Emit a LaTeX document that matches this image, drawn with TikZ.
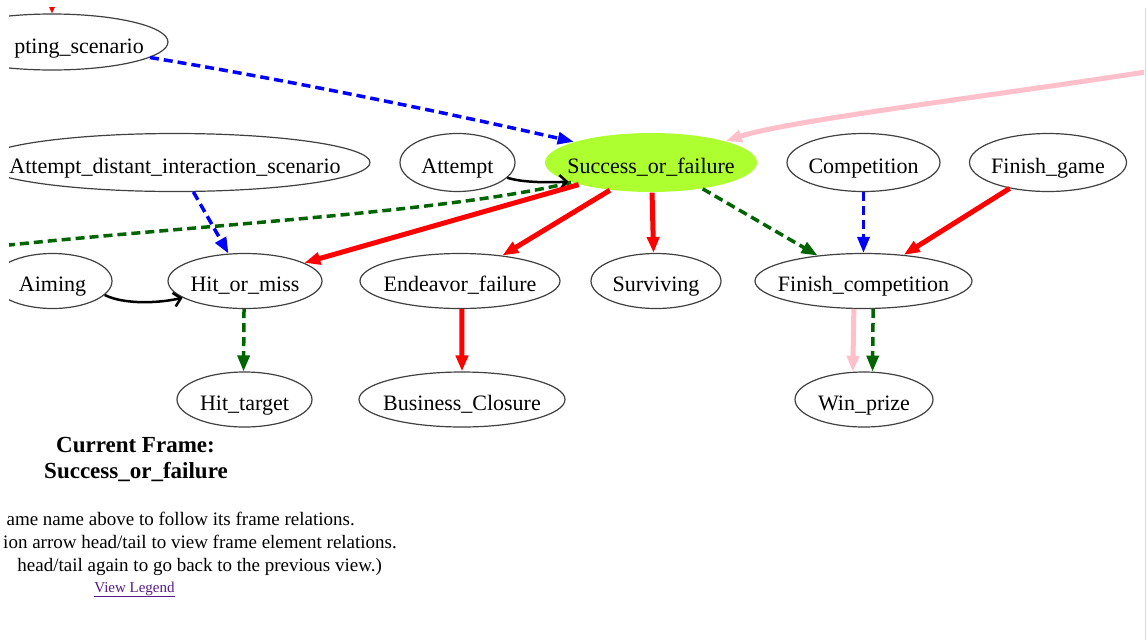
\documentclass[tikz,border=0pt]{standalone}
\usepackage{fontspec}
\setmainfont{Liberation Serif}
\usepackage{tikz}
\usetikzlibrary{shapes.geometric, arrows.meta, positioning}

\definecolor{curgreen}{RGB}{173,255,47}
\definecolor{reldkgreen}{RGB}{0,100,0}
\definecolor{relpink}{RGB}{255,192,203}
\definecolor{linkpurple}{RGB}{85,26,139}

\begin{document}
\begin{tikzpicture}[
    x=1pt, y=-1pt,
    fr/.style={ellipse, draw=black!75, line width=1.2pt, minimum height=55pt, inner xsep=-40pt, inner ysep=0pt, text height=21pt, text depth=0pt, font=\fontsize{22}{26}\selectfont},
    curfr/.style={fr, draw=none, fill=curgreen},
    lbl/.style={inner sep=0pt, font=\fontsize{22}{26}\selectfont},
    note/.style={inner sep=0pt, font=\fontsize{19}{23}\selectfont},
    arr/.style={-{Triangle[length=16pt, width=12pt]}},
    inherits/.style={arr, red, line width=5pt},
    subfr/.style={arr, blue, line width=3.5pt, dash pattern=on 9pt off 5pt},
    perspec/.style={arr, reldkgreen, line width=3.5pt, dash pattern=on 9pt off 5pt},
    uses/.style={arr, relpink, line width=5pt},
    precede/.style={-{Straight Barb[length=7pt, width=14pt]}, black, line width=2.5pt},
]
\fill[white] (0,0) rectangle (1148,640);
\useasboundingbox (0,0) rectangle (1148,640);

\begin{scope}
\clip (9,7) rectangle (1144,640);

% Frames, top row
\node[fr, minimum width=232pt, minimum height=56pt] (scen) at (52,42) {};
\node[lbl, anchor=base east] (scentext) at (144,53) {pting\_scenario};
\node[fr, minimum width=390pt, minimum height=58pt] (adis) at (175,162.5) {Attempt\_distant\_interaction\_scenario};
\node[fr, minimum width=115pt, minimum height=58pt] (attempt) at (457.5,162.5) {Attempt};
\node[curfr, minimum width=212pt, minimum height=59pt] (sof) at (651,162.5) {Success\_or\_failure};
\node[fr, minimum width=153pt, minimum height=58pt] (comp) at (863.5,162.5) {Competition};
\node[fr, minimum width=157pt, minimum height=58pt] (fgame) at (1048,162.5) {Finish\_game};

% Frames, middle row
\node[fr, minimum width=119pt] (aiming) at (52.5,281) {Aiming};
\node[fr, minimum width=154pt] (hom) at (245,281) {Hit\_or\_miss};
\node[fr, minimum width=200pt] (endeavor) at (460,281) {Endeavor\_failure};
\node[fr, minimum width=130pt] (surviving) at (656,281) {Surviving};
\node[fr, minimum width=217pt] (fincomp) at (863.5,281) {Finish\_competition};

% Frames, bottom row
\node[fr, minimum width=135pt] (hittarget) at (244.5,399.5) {Hit\_target};
\node[fr, minimum width=206pt] (business) at (462,399.5) {Business\_Closure};
\node[fr, minimum width=138pt] (winprize) at (864,399.5) {Win\_prize};

% Relations running off the picture
\coordinate (inhfrom) at (52,-5);
\coordinate (usefrom) at (1165,69);
\coordinate (perspto) at (-10,247);
\draw[red, line width=1pt, -{Triangle[length=7pt, width=6pt]}] (inhfrom) -- (scen.north);
\draw[uses] (usefrom) .. controls (1000,95) and (790,120) .. (sof.16);
\draw[perspec] (sof.194) .. controls (450,212) and (200,225) .. (perspto);

% Relations
\draw[subfr] (scen.-9) .. controls (300,82) and (470,118) .. (sof.165);
\draw[precede] (attempt.-17) .. controls (520,182) and (545,183) .. (sof.193);
\draw[inherits] (sof.197) -- (hom.17);
\draw[inherits] (sof.214) -- (endeavor.31);
\draw[inherits] (sof.272) -- (surviving.95);
\draw[perspec] (sof.-27) -- (fincomp.151);
\draw[subfr] (comp.south) -- (fincomp.north);
\draw[inherits] (fgame.214) -- (fincomp.33);
\draw[subfr] (adis.-58) -- (hom.121);
\draw[precede] (aiming.-15) .. controls (125,305) and (160,303) .. (hom.195);
\draw[perspec] (hom.268) -- (hittarget.92);
\draw[inherits] (endeavor.274) -- (business.north);
\draw[uses] (fincomp.251) -- (winprize.112);
\draw[perspec] (fincomp.289) -- (winprize.73);
\end{scope}

% page border
\draw[black!15, line width=1pt] (1145,8) -- (1145,640);

% Caption and help text
\node[inner sep=0pt, font=\bfseries\fontsize{23}{27}\selectfont, anchor=base] (curlabel) at (135.5,452) {Current Frame:};
\node[inner sep=0pt, font=\bfseries\fontsize{23}{27}\selectfont, anchor=base] (curname) at (136,478) {Success\_or\_failure};
\node[note, anchor=base east] (help1) at (355,525) {ame name above to follow its frame relations.};
\node[note, anchor=base east] (help2) at (397,548) {ion arrow head/tail to view frame element relations.};
\node[note, anchor=base east] (help3) at (382,571) {head/tail again to go back to the previous view.)};
\node[inner sep=0pt, font=\fontsize{15}{18}\selectfont, text=linkpurple, anchor=base] (legend) at (134.5,592) {\underline{View Legend}};

\end{tikzpicture}
\end{document}
